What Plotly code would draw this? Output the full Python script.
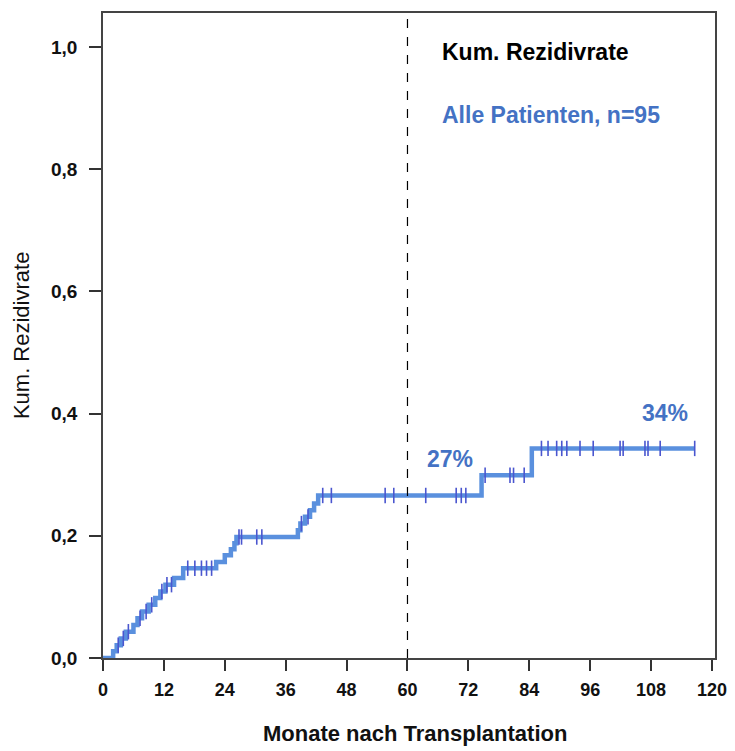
import plotly.graph_objects as go

# Step function of the cumulative relapse rate (month of event, cumulative rate after it)
step_months = [0, 2.0, 2.7, 3.5, 4.5, 6.0, 6.8, 7.7, 9.0, 10.3, 11.3, 12.3, 14.0, 15.8,
               22.3, 24.0, 25.2, 25.9, 26.3, 38.4, 38.9, 39.8, 40.8, 41.6, 42.4, 74.6, 84.5]
step_rates = [0.0, 0.011, 0.021, 0.032, 0.043, 0.054, 0.065, 0.076, 0.087, 0.098, 0.109,
              0.120, 0.131, 0.147, 0.157, 0.168, 0.178, 0.188, 0.198, 0.209, 0.220, 0.231,
              0.242, 0.253, 0.266, 0.299, 0.343]
end_month = 116.6

# Censored observations (months)
censor_months = [3.0, 4.0, 5.0, 7.3, 8.5, 9.6, 11.6, 12.6, 13.5, 16.7, 18.1, 19.4, 20.4, 21.4,
                 26.8, 27.3, 30.3, 31.3, 39.1, 40.4, 43.3, 45.0, 55.6, 57.3, 63.6, 69.6,
                 70.6, 71.5, 75.3, 80.2, 80.9, 83.0, 86.4, 87.7, 89.4, 90.4, 91.4, 94.0,
                 96.6, 101.9, 102.5, 106.8, 107.4, 109.8, 116.6]

x_ticks = [0, 12, 24, 36, 48, 60, 72, 84, 96, 108, 120]
y_ticks = [0.0, 0.2, 0.4, 0.6, 0.8, 1.0]
y_ticklabels = ["0,0", "0,2", "0,4", "0,6", "0,8", "1,0"]

labels_pct = ["27%", "34%"]
label_pos_x = [68.4, 110.7]
label_pos_y = [0.326, 0.401]


def rate_at(t):
    r = 0.0
    for m, v in zip(step_months, step_rates):
        if m <= t:
            r = v
    return r


line_x = step_months + [end_month]
line_y = step_rates + [step_rates[-1]]
censor_y = [rate_at(t) for t in censor_months]

BLUE = "#5a90de"
MARK = "#4a56cf"
TEXTBLUE = "#4472C4"
FONT = "Liberation Sans, Arial"

fig = go.Figure()
fig.add_trace(go.Scatter(
    x=line_x, y=line_y, mode="lines",
    line=dict(color=BLUE, width=4.5, shape="hv"),
    hoverinfo="skip", showlegend=False))
fig.add_trace(go.Scatter(
    x=censor_months, y=censor_y, mode="markers",
    marker=dict(symbol="line-ns-open", size=11, color=MARK, line=dict(color=MARK, width=1.6)),
    showlegend=False))

fig.add_vline(x=60, line=dict(color="black", width=1.2, dash="dash"))

for t, xx, yy in zip(labels_pct, label_pos_x, label_pos_y):
    fig.add_annotation(x=xx, y=yy, text=t, showarrow=False,
                       font=dict(family=FONT, size=23, color=TEXTBLUE, weight="bold"))

fig.add_annotation(x=66.4, y=0.992, xanchor="left", text="Kum. Rezidivrate", showarrow=False,
                   font=dict(family=FONT, size=23, color="black", weight="bold"))
fig.add_annotation(x=66.4, y=0.889, xanchor="left", text="Alle Patienten, n=95", showarrow=False,
                   font=dict(family=FONT, size=23, color=TEXTBLUE, weight="bold"))

# Axis titles
fig.add_annotation(xref="paper", yref="paper", x=0.51, y=-0.117, yanchor="middle",
                   text="Monate nach Transplantation", showarrow=False,
                   font=dict(family=FONT, size=22, color="#111", weight="bold"))
fig.add_annotation(xref="paper", yref="paper", x=-0.133, y=0.5, xanchor="center",
                   text="Kum. Rezidivrate", textangle=-90, showarrow=False,
                   font=dict(family=FONT, size=22, color="#111"))

fig.update_xaxes(range=[0, 120.6], tickvals=x_ticks, ticks="outside", ticklen=11,
                 tickwidth=1.5, tickcolor="#333", showline=True, linecolor="#444",
                 linewidth=1.5, mirror=True, showgrid=False, zeroline=False,
                 ticklabelstandoff=4,
                 tickfont=dict(family=FONT, size=18, color="#111", weight="bold"))
fig.update_yaxes(range=[0, 1.0556], tickvals=y_ticks, ticktext=y_ticklabels,
                 ticks="outside", ticklen=12, tickwidth=1.5, tickcolor="#333",
                 showline=True, linecolor="#444", linewidth=1.5, mirror=True,
                 showgrid=False, zeroline=False, ticklabelstandoff=8,
                 tickfont=dict(family=FONT, size=19, color="#111", weight="bold"))

# page body has an 8px margin, so the figure is shrunk/offset to compensate
fig.update_layout(
    width=727, height=743,
    margin=dict(l=95, r=20, t=5, b=93, autoexpand=False),
    plot_bgcolor="white", paper_bgcolor="white",
    showlegend=False,
)

fig.write_html("out.html")
